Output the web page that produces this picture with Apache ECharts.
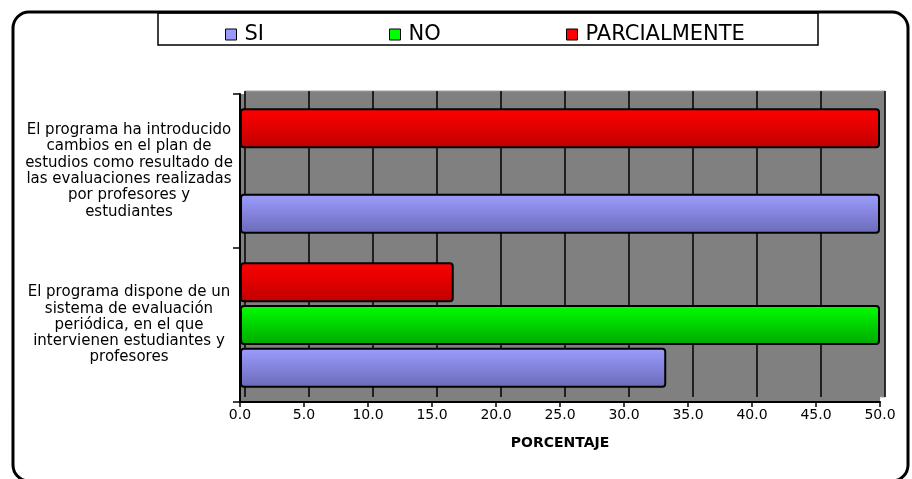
<!DOCTYPE html>
<html>
<head>
<meta charset="utf-8">
<script src="https://cdn.jsdelivr.net/npm/echarts@6/dist/echarts.min.js"></script>
<style>
  html, body { margin: 0; padding: 0; background: #fff; }
  #chart { width: 912px; height: 479px; }
</style>
</head>
<body>
<div id="chart"></div>
<script>
// categories, bottom to top as the y axis reads them
var categories = [
  'El programa dispone de un\nsistema de evaluación\nperiódica, en el que\nintervienen estudiantes y\nprofesores',
  'El programa ha introducido\ncambios en el plan de\nestudios como resultado de\nlas evaluaciones realizadas\npor profesores y\nestudiantes'
];
var seriesNames = ['SI', 'NO', 'PARCIALMENTE'];
var siValues = [33.3, 50.0];
var noValues = [50.0, 0.0];
var parcialValues = [16.7, 50.0];
var xTicks = { min: 0, max: 50, interval: 5 };
var axisTitle = 'PORCENTAJE';

var font = 'DejaVu Sans';

function grad(top, bottom) {
  return new echarts.graphic.LinearGradient(0, 0, 0, 1, [
    { offset: 0, color: top },
    { offset: 1, color: bottom }
  ]);
}

function barSeries(name, data, top, bottom) {
  return {
    name: name,
    type: 'bar',
    xAxisIndex: 1,
    yAxisIndex: 1,
    data: data,
    barWidth: 40,
    barGap: '7%',
    itemStyle: {
      color: grad(top, bottom),
      borderColor: '#000',
      borderWidth: 2,
      borderRadius: 3
    }
  };
}

function legendAt(left, name, color) {
  return {
    left: left,
    top: 24,
    padding: 0,
    itemWidth: 11,
    itemHeight: 11,
    itemGap: 5,
    selectedMode: false,
    textStyle: { fontFamily: font, fontSize: 21, color: '#000', padding: [0, 0, 0, 3] },
    data: [{ name: name, icon: 'rect', itemStyle: { color: color, borderColor: '#000', borderWidth: 1 } }]
  };
}

var chart = echarts.init(document.getElementById('chart'), null, { renderer: 'canvas' });

chart.setOption({
  animation: false,
  backgroundColor: '#fff',
  graphic: [
    { type: 'rect', shape: { x: 13, y: 12, width: 895, height: 469, r: 16 },
      style: { fill: 'none', stroke: '#000', lineWidth: 3 }, z: 100 },
    { type: 'rect', shape: { x: 158, y: 13, width: 660, height: 32 },
      style: { fill: 'none', stroke: '#000', lineWidth: 1.5 }, z: 100 }
  ],
  legend: [
    legendAt(225, seriesNames[0], '#9999ff'),
    legendAt(389, seriesNames[1], '#00ff00'),
    legendAt(566, seriesNames[2], '#ff0000')
  ],
  grid: [
    // back wall of the 3D plot
    { left: 245, right: 27, top: 91, bottom: 82, show: true,
      backgroundColor: '#808080', borderColor: '#a0a0a0', borderWidth: 1 },
    // front plane with the axes and bars
    { left: 240, right: 32, top: 94, bottom: 77, show: true,
      backgroundColor: '#808080', borderWidth: 0 }
  ],
  xAxis: [
    { gridIndex: 0, type: 'value', min: xTicks.min, max: xTicks.max, interval: xTicks.interval,
      axisLine: { show: false }, axisTick: { show: false }, axisLabel: { show: false },
      splitLine: { show: true, lineStyle: { color: '#000', width: 1.5 } } },
    { gridIndex: 1, type: 'value', min: xTicks.min, max: xTicks.max, interval: xTicks.interval,
      name: axisTitle, nameLocation: 'middle', nameGap: 34,
      nameTextStyle: { fontFamily: font, fontSize: 14, fontWeight: 'bold', color: '#000' },
      axisLine: { show: true, lineStyle: { color: '#000', width: 2 } },
      axisTick: { show: true, length: 5, lineStyle: { color: '#000', width: 1.5 } },
      axisLabel: { margin: 6, fontFamily: font, fontSize: 14, color: '#000',
        formatter: function (v) { return v.toFixed(1); } },
      splitLine: { show: false } }
  ],
  yAxis: [
    { gridIndex: 0, type: 'category', data: categories, show: false },
    { gridIndex: 1, type: 'category', data: categories,
      axisLine: { show: true, lineStyle: { color: '#000', width: 2 } },
      axisTick: { show: true, length: 7, lineStyle: { color: '#000', width: 1.5 } },
      axisLabel: { align: 'center', margin: 111, fontFamily: font, fontSize: 15,
        lineHeight: 16.3, color: '#000' },
      splitLine: { show: false } }
  ],
  // first series is drawn at the top of each group
  series: [
    barSeries(seriesNames[2], parcialValues, '#ff0000', '#c00000'),
    barSeries(seriesNames[1], noValues, '#00ff00', '#00a800'),
    barSeries(seriesNames[0], siValues, '#9d9dff', '#6a6ab8')
  ]
});
</script>
</body>
</html>
